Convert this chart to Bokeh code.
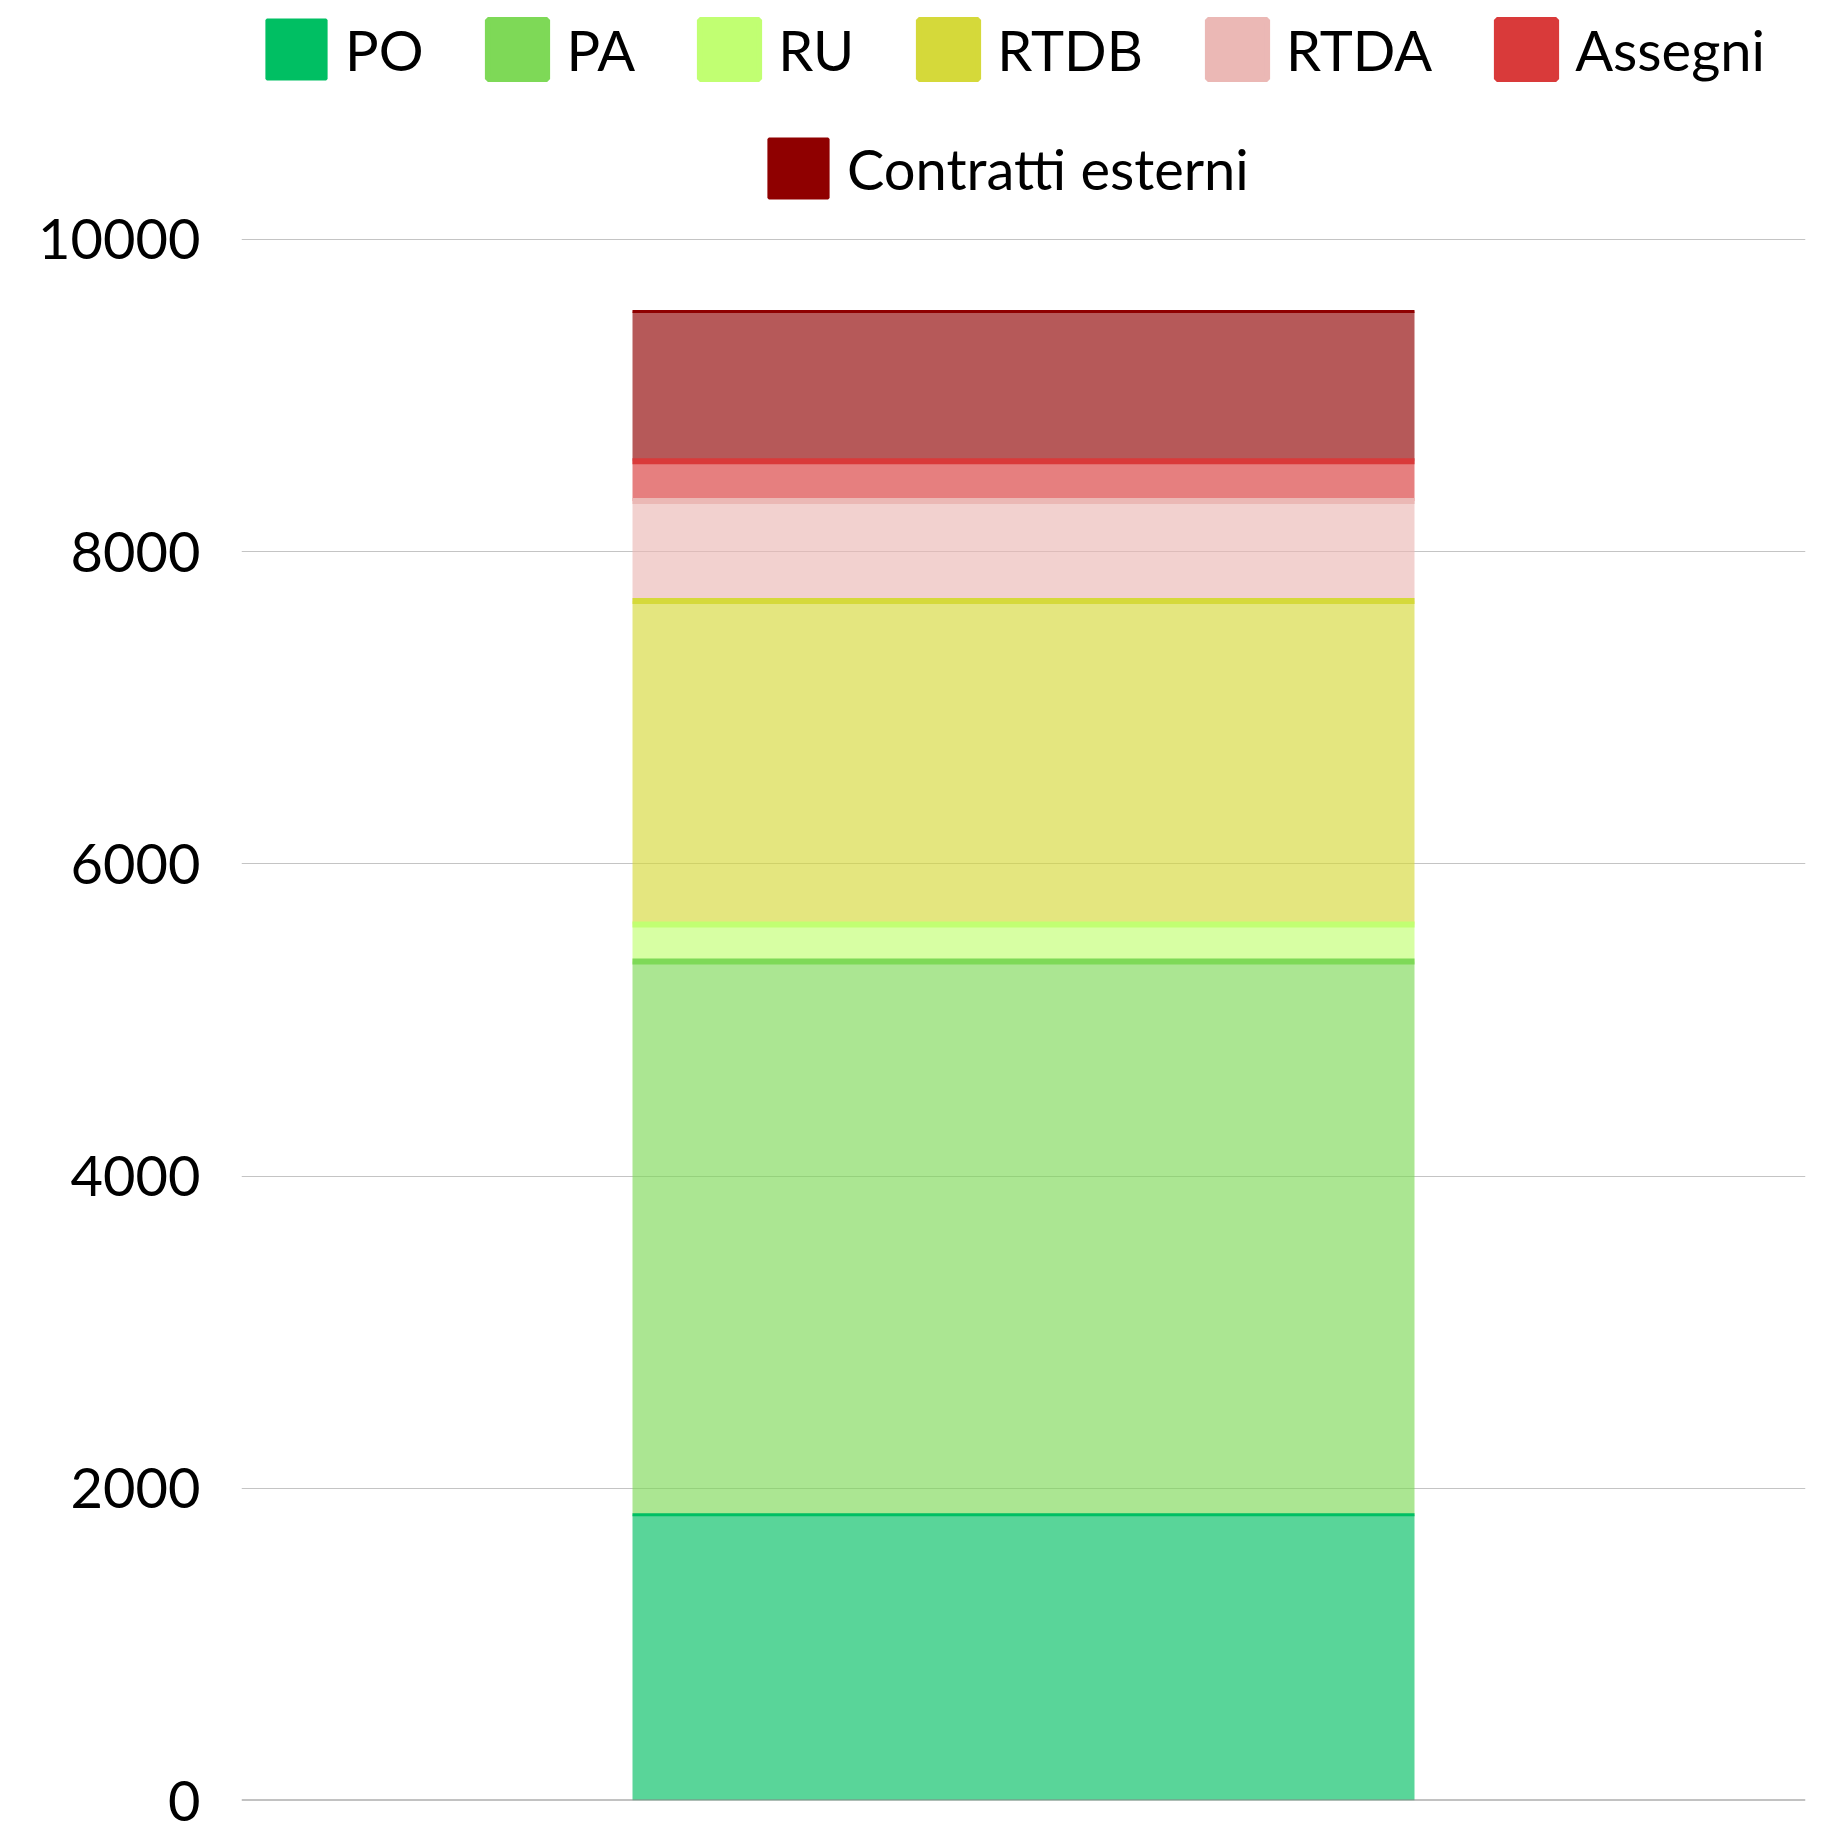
import numpy as np
from bokeh.plotting import figure
from bokeh.models import Range1d, FactorRange, FixedTicker, Legend, LegendItem, Span
from bokeh.embed import file_html
from bokeh.resources import INLINE

# ---- data ----
categories = ["Totale"]
series = ["PO", "PA", "RU", "RTDB", "RTDA", "Assegni", "Contratti esterni"]
values = [1830, 3544, 237, 2073, 640, 256, 959]
colors = ["#00BF63", "#7ED957", "#C1FF72", "#D5D93A", "#EBB8B5", "#D93A3A", "#8F0000"]
y_ticks = [0, 2000, 4000, 6000, 8000, 10000]

# ---- styles ----
border_widths = [3, 6, 6, 6, 6, 6, 3]
FONT = "Lato"
FS = "56px"
Y_TOP = 11531  # headroom above 10000 for the legend rows

tops = np.cumsum(values)
bottoms = tops - np.array(values)

p = figure(width=1826, height=1831,
           x_range=FactorRange(*categories, range_padding=0),
           y_range=Range1d(0, Y_TOP),
           output_backend="svg", toolbar_location=None, title=None,
           min_border_left=241, min_border_right=21,
           min_border_bottom=31, min_border_top=0)

for i in range(len(series)):
    p.vbar(x=categories, bottom=[bottoms[i]], top=[tops[i]], width=0.5,
           fill_color=colors[i], fill_alpha=0.65, line_alpha=0)

items = []
for i in range(len(series)):
    r = p.vbar(x=categories, bottom=[tops[i]], top=[tops[i]], width=0.5,
               fill_color=colors[i], line_color=colors[i],
               line_width=border_widths[i])
    items.append(LegendItem(label=series[i], renderers=[r]))

p.xaxis.visible = False
p.xgrid.visible = False
p.ygrid.grid_line_color = "#c4c4c4"
p.ygrid.grid_line_width = 1
p.outline_line_color = None

p.yaxis.ticker = FixedTicker(ticks=y_ticks)
p.yaxis.axis_line_color = None
p.yaxis.major_tick_line_color = None
p.yaxis.minor_tick_line_color = None
p.yaxis.major_label_text_font = FONT
p.yaxis.major_label_text_font_size = FS
p.yaxis.major_label_text_color = "#000000"
p.yaxis.major_label_standoff = 35

p.add_layout(Span(location=0, dimension="width", line_color="#858585", line_width=2))

def make_legend(its, loc):
    return Legend(items=its, orientation="horizontal", location=loc,
                  label_text_font=FONT, label_text_font_size=FS,
                  label_text_color="#000000",
                  glyph_width=74, glyph_height=74, label_standoff=12,
                  spacing=57, padding=0, margin=0,
                  border_line_color=None, background_fill_alpha=0)

p.add_layout(make_legend(items[:6], (18, 1714)))
p.add_layout(make_legend(items[6:], (520, 1595)))

open("out.html", "w").write(file_html(p, INLINE))
